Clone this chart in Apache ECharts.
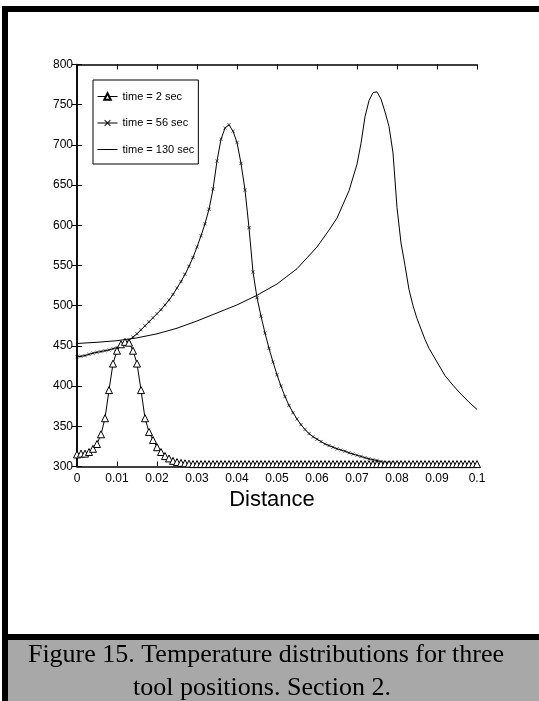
<!DOCTYPE html>
<html>
<head>
<meta charset="utf-8">
<script src="https://cdn.jsdelivr.net/npm/echarts@6/dist/echarts.min.js"></script>
<style>
  html, body { margin: 0; padding: 0; background: #fff; }
  #chart { width: 539px; height: 701px; }
</style>
</head>
<body>
<div id="chart"></div>
<script>
// ---- data ----
const distance = [
  0, 0.001, 0.002, 0.003, 0.004, 0.005, 0.006, 0.007, 0.008, 0.009,
  0.010, 0.011, 0.012, 0.013, 0.014, 0.015, 0.016, 0.017, 0.018, 0.019,
  0.020, 0.021, 0.022, 0.023, 0.024, 0.025, 0.026, 0.027, 0.028, 0.029,
  0.030, 0.031, 0.032, 0.033, 0.034, 0.035, 0.036, 0.037, 0.038, 0.039,
  0.040, 0.041, 0.042, 0.043, 0.044, 0.045, 0.046, 0.047, 0.048, 0.049,
  0.050, 0.051, 0.052, 0.053, 0.054, 0.055, 0.056, 0.057, 0.058, 0.059,
  0.060, 0.061, 0.062, 0.063, 0.064, 0.065, 0.066, 0.067, 0.068, 0.069,
  0.070, 0.071, 0.072, 0.073, 0.074, 0.075, 0.076, 0.077, 0.078, 0.079,
  0.080, 0.081, 0.082, 0.083, 0.084, 0.085, 0.086, 0.087, 0.088, 0.089,
  0.090, 0.091, 0.092, 0.093, 0.094, 0.095, 0.096, 0.097, 0.098, 0.099,
  0.100
];
const temp2s = [
  315, 316, 316, 318, 322, 328, 340, 360, 395, 428,
  444, 452, 455, 454, 444, 428, 395, 360, 343, 333,
  324, 318, 313, 310, 307, 305.5, 304.5, 304, 303.5, 303,
  303, 303, 303, 303, 303, 303, 303, 303, 303, 303,
  303, 303, 303, 303, 303, 303, 303, 303, 303, 303,
  303, 303, 303, 303, 303, 303, 303, 303, 303, 303,
  303, 303, 303, 303, 303, 303, 303, 303, 303, 303,
  303, 303, 303, 303, 303, 303, 303, 303, 303, 303,
  303, 303, 303, 303, 303, 303, 303, 303, 303, 303,
  303, 303, 303, 303, 303, 303, 303, 303, 303, 303,
  303
];
const temp56s = [
  436.5, 437, 438, 439.5, 441, 442, 443, 444, 445, 446.5,
  448, 450, 454, 457, 461, 465, 470, 475, 480, 485,
  490, 495, 501, 507, 514, 522, 530, 539, 549, 560,
  573, 587, 602, 620, 645, 680, 707, 721, 725, 717,
  703, 677, 644, 597, 542, 510, 487, 466, 447, 430,
  414, 400, 387, 376, 367, 359, 352, 346, 341, 337,
  334, 331, 328, 326, 324, 322, 320.5, 319, 317, 315.5,
  314, 312.5, 311, 309.5, 308.5, 307.5, 306, 305, 304.5, 304,
  303.5, 303, 303, 302.5, 302.5, 302.5, 302.5, 302.5, 302.5, 302.5,
  302.5, 302, 302, 302, 302, 302, 302, 302, 302, 302,
  302
];
const distance130 = [
  0, 0.005, 0.010, 0.015, 0.020, 0.025, 0.030, 0.035, 0.040, 0.045,
  0.050, 0.055, 0.060, 0.063, 0.065, 0.068, 0.070, 0.071, 0.072, 0.073,
  0.074, 0.075, 0.076, 0.077, 0.078, 0.079, 0.080, 0.081, 0.082, 0.083,
  0.084, 0.085, 0.086, 0.087, 0.088, 0.090, 0.092, 0.094, 0.096, 0.098,
  0.100
];
const temp130s = [
  453, 454.5, 456.5, 460, 465, 472, 481, 491, 501, 513,
  527, 546, 573, 594, 609, 643, 676, 702, 735, 755,
  765, 766, 757, 741, 723, 690, 622, 578, 550, 520,
  500, 484, 471, 458, 447, 430, 413, 401, 390, 380,
  371
];
const seriesNames = ['time = 2 sec', 'time = 56 sec', 'time = 130 sec'];
const xTickLabels = ['0', '0.01', '0.02', '0.03', '0.04', '0.05', '0.06', '0.07', '0.08', '0.09', '0.1'];
const xAxisTitle = 'Distance';
const captionLines = ['Figure 15. Temperature distributions for three', 'tool positions. Section 2.'];

// ---- chart ----
const sans = "'Liberation Sans', Arial, sans-serif";
const pair = (xs, ys) => xs.map((x, i) => [x, ys[i]]);
const crossPath = 'path://M0,1L1,0L5,4L9,0L10,1L6,5L10,9L9,10L5,6L1,10L0,9L4,5Z';

const chart = echarts.init(document.getElementById('chart'), null, { renderer: 'canvas' });

const axisLine = { show: true, lineStyle: { color: '#000', width: 1.5 } };
const tickIn = { show: true, inside: true, length: 5, lineStyle: { color: '#000', width: 1 } };

chart.setOption({
  animation: false,
  backgroundColor: '#fff',
  grid: { left: 77, top: 64.5, width: 400, height: 402, containLabel: false },
  xAxis: [
    {
      type: 'value', min: 0, max: 0.1, interval: 0.01, position: 'bottom',
      axisLine: axisLine, axisTick: tickIn, splitLine: { show: false },
      axisLabel: {
        color: '#000', fontFamily: sans, fontSize: 12, margin: 6,
        formatter: (v) => xTickLabels[Math.round(v * 100)]
      },
      name: xAxisTitle, nameLocation: 'middle', nameGap: 21,
      nameTextStyle: { color: '#000', fontFamily: sans, fontSize: 22, padding: [0, 10, 0, 0] }
    },
    {
      type: 'value', min: 0, max: 0.1, interval: 0.01, position: 'top',
      axisLine: axisLine, axisTick: tickIn, splitLine: { show: false },
      axisLabel: { show: false }
    }
  ],
  yAxis: [
    {
      type: 'value', min: 300, max: 800, interval: 50, position: 'left',
      axisLine: axisLine, axisTick: tickIn, splitLine: { show: false },
      axisLabel: { color: '#000', fontFamily: sans, fontSize: 12, margin: 4 }
    },
    {
      type: 'value', min: 300, max: 800, interval: 50, position: 'right',
      axisLine: axisLine, axisTick: tickIn, splitLine: { show: false },
      axisLabel: { show: false }
    }
  ],
  legend: {
    orient: 'vertical', left: 93, top: 80,
    itemWidth: 20, itemHeight: 8, itemGap: 15.5,
    padding: [11, 4, 9, 4],
    borderColor: '#000', borderWidth: 1, backgroundColor: '#fff',
    lineStyle: { width: 1, color: '#000' },
    textStyle: { color: '#000', fontFamily: sans, fontSize: 11 },
    data: [
      { name: seriesNames[0] },
      { name: seriesNames[1] },
      { name: seriesNames[2], icon: 'path://M0,0H20V1H0Z' }
    ]
  },
  series: [
    {
      name: seriesNames[0], type: 'line', xAxisIndex: 0, yAxisIndex: 0,
      data: pair(distance, temp2s), z: 4,
      symbol: 'triangle', symbolSize: 7, showAllSymbol: true,
      itemStyle: { color: '#fff', borderColor: '#000', borderWidth: 1 },
      lineStyle: { color: '#000', width: 1 }
    },
    {
      name: seriesNames[1], type: 'line', xAxisIndex: 0, yAxisIndex: 0,
      data: pair(distance, temp56s), z: 3,
      symbol: crossPath, symbolSize: 3.5, showAllSymbol: true,
      itemStyle: { color: '#000' },
      lineStyle: { color: '#000', width: 1 }
    },
    {
      name: seriesNames[2], type: 'line', xAxisIndex: 0, yAxisIndex: 0,
      data: pair(distance130, temp130s), z: 2,
      symbol: 'none', showSymbol: false,
      itemStyle: { color: '#000' },
      lineStyle: { color: '#000', width: 1 }
    }
  ],
  graphic: [
    { type: 'rect', shape: { x: 2, y: 6, width: 537, height: 6 }, style: { fill: '#000' }, silent: true },
    { type: 'rect', shape: { x: 2, y: 6, width: 6, height: 695 }, style: { fill: '#000' }, silent: true },
    { type: 'rect', shape: { x: 2, y: 634, width: 537, height: 6 }, style: { fill: '#000' }, silent: true },
    { type: 'rect', shape: { x: 8, y: 640, width: 531, height: 61 }, style: { fill: '#a8a8a8' }, silent: true },
    { type: 'text', x: 266, y: 655, style: { text: captionLines[0], fill: '#000', font: "26px 'Liberation Serif', 'Times New Roman', serif", align: 'center', verticalAlign: 'middle' }, silent: true },
    { type: 'text', x: 262, y: 688, style: { text: captionLines[1], fill: '#000', font: "26px 'Liberation Serif', 'Times New Roman', serif", align: 'center', verticalAlign: 'middle' }, silent: true }
  ]
});
</script>
</body>
</html>
